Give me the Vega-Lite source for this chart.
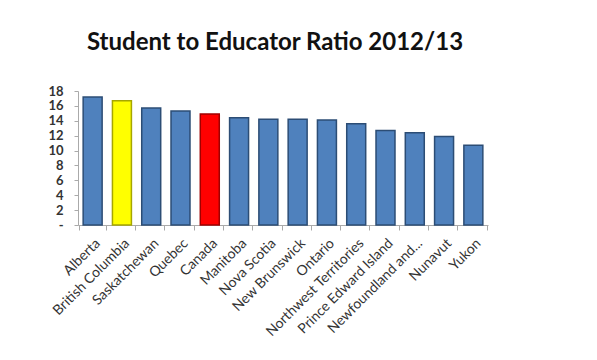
{
  "$schema": "https://vega.github.io/schema/vega-lite/v6.json",
  "autosize": "none",
  "width": 410,
  "height": 134,
  "padding": {"left": 78, "top": 91, "right": 109, "bottom": 135},
  "background": "white",
  "title": {
    "text": "Student to Educator Ratio 2012/13",
    "font": "Lato",
    "fontSize": 24,
    "fontWeight": "bold",
    "color": "#111111",
    "anchor": "middle",
    "dx": -8,
    "offset": 30
  },
  "data": {
    "values": [
      {"region": "Alberta", "ratio": 17.2, "group": "Province"},
      {"region": "British Columbia", "ratio": 16.7, "group": "BC"},
      {"region": "Saskatchewan", "ratio": 15.7, "group": "Province"},
      {"region": "Quebec", "ratio": 15.3, "group": "Province"},
      {"region": "Canada", "ratio": 14.9, "group": "Canada"},
      {"region": "Manitoba", "ratio": 14.4, "group": "Province"},
      {"region": "Nova Scotia", "ratio": 14.2, "group": "Province"},
      {"region": "New Brunswick", "ratio": 14.2, "group": "Province"},
      {"region": "Ontario", "ratio": 14.1, "group": "Province"},
      {"region": "Northwest Territories", "ratio": 13.6, "group": "Province"},
      {"region": "Prince Edward Island", "ratio": 12.7, "group": "Province"},
      {"region": "Newfoundland and...", "ratio": 12.4, "group": "Province"},
      {"region": "Nunavut", "ratio": 11.9, "group": "Province"},
      {"region": "Yukon", "ratio": 10.7, "group": "Province"}
    ]
  },
  "mark": {"type": "bar", "strokeWidth": 1.5, "width": {"band": 0.72}},
  "encoding": {
    "x": {
      "field": "region",
      "type": "nominal",
      "sort": null,
      "title": null,
      "axis": {
        "labelAngle": -45,
        "labelFont": "Lato",
        "labelFontSize": 14,
        "labelColor": "#333333",
        "labelOverlap": false,
        "tickBand": "extent",
        "domainColor": "#aaaaaa",
        "tickColor": "#aaaaaa",
        "labelPadding": 6
      }
    },
    "y": {
      "field": "ratio",
      "type": "quantitative",
      "title": null,
      "scale": {"domain": [0, 18]},
      "axis": {
        "values": [0, 2, 4, 6, 8, 10, 12, 14, 16, 18],
        "labelExpr": "datum.value == 0 ? '-' : datum.label",
        "labelFont": "Lato",
        "labelFontSize": 13,
        "labelFontWeight": "bold",
        "labelColor": "#333333",
        "labelOverlap": false,
        "labelPadding": 11,
        "grid": false,
        "domainColor": "#aaaaaa",
        "tickColor": "#aaaaaa",
        "tickSize": 4
      }
    },
    "color": {
      "field": "group",
      "type": "nominal",
      "scale": {"domain": ["Province", "BC", "Canada"], "range": ["#4F81BD", "#FFFF00", "#FF0000"]},
      "legend": null
    },
    "stroke": {
      "field": "group",
      "type": "nominal",
      "scale": {"domain": ["Province", "BC", "Canada"], "range": ["#2C4D75", "#A6A600", "#A00000"]},
      "legend": null
    }
  },
  "config": {"view": {"stroke": null}}
}
